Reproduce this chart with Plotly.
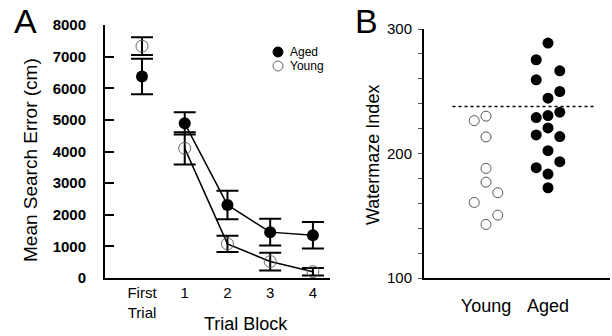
import plotly.graph_objects as go

# Panel A data
blocks = ["First<br>Trial", "1", "2", "3", "4"]
block_x = [0, 1, 2, 3, 4]
aged_mean = [6370, 4890, 2310, 1450, 1350]
aged_err = [560, 350, 450, 420, 420]
young_mean = [7330, 4100, 1080, 520, 200]
young_err = [280, 510, 255, 280, 120]

# Panel B data (Watermaze index)
young_idx = [226.4, 230, 213.3, 188, 177, 168.5, 160.7, 150.5, 143]
young_col = [-1, 0, 0, 0, 0, 1, -1, 1, 0]
aged_idx = [288.7, 275.3, 266.4, 259.2, 249.8, 244.4, 233.2, 228.9, 230.5,
            220.5, 214.9, 213.6, 202.3, 193.4, 188.6, 183.5, 172.5]
aged_col = [0, -1, 1, -1, 1, 0, 1, -1, 0, 0, -1, 1, 0, 1, -1, 0, 0]
threshold = 237.7
groups = ["Young", "Aged"]

FONT = "Arial, 'Liberation Sans', sans-serif"
W, H = 612, 336
ML, MR, MT, MB = 105, 2, 25, 336 - 278
pw, ph = W - ML - MR, H - MT - MB
def px(xp): return (xp - ML) / pw
def py(yp): return (H - MB - yp) / ph

fig = go.Figure()

# Panel A
fig.add_trace(go.Scatter(x=block_x[1:], y=aged_mean[1:], mode="lines",
                         line=dict(color="black", width=1.5), showlegend=False,
                         xaxis="x", yaxis="y"))
fig.add_trace(go.Scatter(x=block_x[1:], y=young_mean[1:], mode="lines",
                         line=dict(color="black", width=1.5), showlegend=False,
                         xaxis="x", yaxis="y"))
fig.add_trace(go.Scatter(x=block_x, y=aged_mean, mode="markers", name="Aged",
                         marker=dict(color="black", size=12, line=dict(width=0)),
                         error_y=dict(type="data", array=aged_err, color="black",
                                      thickness=2, width=11),
                         showlegend=False, xaxis="x", yaxis="y"))
fig.add_trace(go.Scatter(x=block_x, y=young_mean, mode="markers", name="Young",
                         marker=dict(color="rgba(255,255,255,0)", size=12,
                                     line=dict(color="#666", width=1)),
                         error_y=dict(type="data", array=young_err, color="black",
                                      thickness=2, width=11),
                         showlegend=False, xaxis="x", yaxis="y"))

# Panel B
sp = 0.19
fig.add_trace(go.Scatter(x=[1 + c * sp for c in young_col], y=young_idx, mode="markers",
                         marker=dict(color="white", size=10, line=dict(color="#555", width=1)),
                         showlegend=False, xaxis="x2", yaxis="y2"))
fig.add_trace(go.Scatter(x=[2 + c * sp for c in aged_col], y=aged_idx, mode="markers",
                         marker=dict(color="black", size=11, line=dict(width=0)),
                         showlegend=False, xaxis="x2", yaxis="y2"))

fig.add_shape(type="line", xref="x2", yref="y2", x0=0.46, x1=2.76, y0=threshold, y1=threshold,
              line=dict(color="black", width=1.5, dash="dot"))

btick = list(range(100, 301, 20))
btext = [str(v) if v % 100 == 0 else "" for v in btick]
atick = list(range(0, 8001, 1000))
atext = ["<b>%d</b>" % v for v in atick]

fig.update_layout(
    width=W, height=H,
    margin=dict(l=ML, r=MR, t=MT, b=MB, autoexpand=False),
    paper_bgcolor="white", plot_bgcolor="white",
    font=dict(family=FONT, color="black", size=14),
    showlegend=False,
    xaxis=dict(domain=[0, px(330)], range=[-0.866, 4.4], tickvals=block_x, ticktext=blocks,
               showline=True, linecolor="black", linewidth=2, ticks="", showgrid=False,
               zeroline=False, tickfont=dict(size=15), automargin=False),
    yaxis=dict(domain=[0, 1], range=[0, 8000], tickvals=atick, ticktext=atext,
               showline=True, linecolor="black", linewidth=2, ticks="inside", ticklen=9,
               tickwidth=2, tickcolor="black", showgrid=False, zeroline=False,
               tickfont=dict(size=15), ticklabelstandoff=14, automargin=False),
    xaxis2=dict(domain=[px(424), 1], range=[0, 3], tickvals=[1, 2], ticktext=groups,
                showline=True, linecolor="black", linewidth=2, ticks="", showgrid=False,
                zeroline=False, tickfont=dict(size=18), anchor="y2", automargin=False,
                ticklabelstandoff=10),
    yaxis2=dict(domain=[0, py(29)], range=[100, 300], tickvals=btick, ticktext=btext,
                showline=True, linecolor="black", linewidth=2, ticks="outside", ticklen=4,
                tickwidth=1, tickcolor="#555", showgrid=False, zeroline=False,
                tickfont=dict(size=15), anchor="x2", automargin=False, ticklabelstandoff=3),
)

# Axis titles
fig.add_annotation(text="Mean Search Error (cm)", x=px(30), y=py(160), xref="paper", yref="paper",
                   showarrow=False, textangle=-90, font=dict(size=19),
                   xanchor="center", yanchor="middle")
fig.add_annotation(text="Trial Block", x=px(246), y=py(324), xref="paper", yref="paper",
                   showarrow=False, font=dict(size=18), xanchor="center", yanchor="middle")
fig.add_annotation(text="Watermaze Index", x=px(373), y=py(155), xref="paper", yref="paper",
                   showarrow=False, textangle=-90, font=dict(size=18),
                   xanchor="center", yanchor="middle")

# Panel letters
fig.add_annotation(text="A", x=px(25), y=py(21), xref="paper", yref="paper", showarrow=False,
                   font=dict(size=34), xanchor="center", yanchor="middle", borderpad=0)
fig.add_annotation(text="B", x=px(366), y=py(21), xref="paper", yref="paper", showarrow=False,
                   font=dict(size=34), xanchor="center", yanchor="middle", borderpad=0)

# Legend (drawn manually to match compact spacing)
legend_items = [("Aged", "black", "black", 52), ("Young", "rgba(0,0,0,0)", "#666", 66)]
for name, fill, edge, ly in legend_items:
    fig.add_shape(type="circle", xref="paper", yref="paper", xsizemode="pixel", ysizemode="pixel",
                  xanchor=px(278), yanchor=py(ly), x0=-5, x1=5, y0=-5, y1=5,
                  fillcolor=fill, line=dict(color=edge, width=1))
    fig.add_annotation(text=name, x=px(288), y=py(ly), xref="paper", yref="paper",
                       showarrow=False, font=dict(size=12), xanchor="left", yanchor="middle")

fig.write_html("out.html", config={"displayModeBar": False},
               post_script="document.body.style.margin='0px';")
